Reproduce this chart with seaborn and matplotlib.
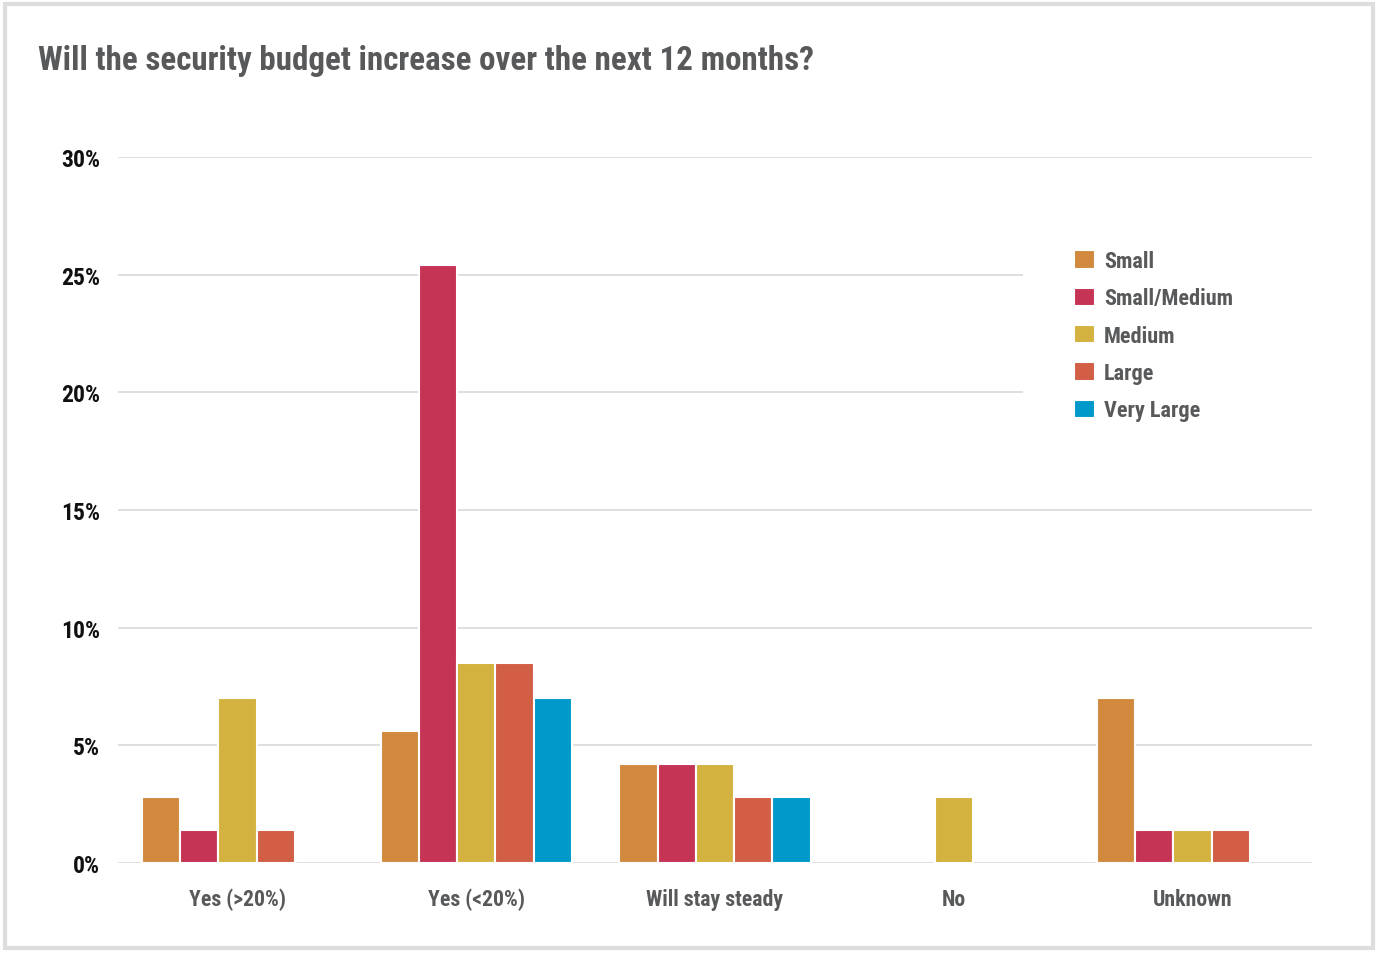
import matplotlib
matplotlib.use("Agg")
import matplotlib.pyplot as plt
from matplotlib.patches import Rectangle
from matplotlib.ticker import FuncFormatter
import seaborn as sns
import pandas as pd

categories = ["Yes (>20%)", "Yes (<20%)", "Will stay steady", "No", "Unknown"]
sizes = ["Small", "Small/Medium", "Medium", "Large", "Very Large"]
small = [2.8, 5.6, 4.2, 0.0, 7.0]
small_medium = [1.4, 25.4, 4.2, 0.0, 1.4]
medium = [7.0, 8.5, 4.2, 2.8, 1.4]
large = [1.4, 8.5, 2.8, 0.0, 1.4]
very_large = [0.0, 7.0, 2.8, 0.0, 0.0]
colors = ["#D18A3D", "#C63455", "#D4B240", "#D15E45", "#0099C9"]

rows = []
for size, vals in zip(sizes, [small, small_medium, medium, large, very_large]):
    for cat, v in zip(categories, vals):
        rows.append({"answer": cat, "size": size, "pct": v})
df = pd.DataFrame(rows)

sns.set_theme(style="white")
plt.rcParams["font.family"] = ["Roboto Condensed", "Liberation Sans Narrow",
                               "Roboto", "DejaVu Sans"]
plt.rcParams["font.stretch"] = "condensed"

fig = plt.figure(figsize=(13.77, 9.54), dpi=100)
ax = fig.add_axes([118 / 1377, 90 / 954, 1194 / 1377, 706 / 954])

sns.barplot(data=df, x="answer", y="pct", hue="size", order=categories,
            hue_order=sizes, palette=colors, saturation=1, width=0.8, ax=ax,
            edgecolor="white", linewidth=1.5, errorbar=None, zorder=3)

# empty slots stay invisible so the baseline is not broken
for container in ax.containers:
    for bar in container:
        if bar.get_height() == 0:
            bar.set_visible(False)

ax.set_ylim(0, 30)
ax.set_yticks([0, 5, 10, 15, 20, 25, 30])
ax.yaxis.set_major_formatter(FuncFormatter(lambda v, p: f"{v:.0f}%"))
ax.grid(axis="y", color="#d9d9d9", linewidth=1.2, zorder=0)
ax.grid(axis="x", visible=False)
for s in ax.spines.values():
    s.set_visible(False)
ax.set_xlabel("")
ax.set_ylabel("")
ax.tick_params(axis="y", length=0, pad=13, labelsize=17, labelcolor="#111111")
ax.tick_params(axis="x", length=0, pad=18, labelsize=15.7, labelcolor="#58595B")
for lab in ax.get_yticklabels():
    lab.set_fontweight("bold")
for lab in ax.get_xticklabels():
    lab.set_fontweight("bold")

leg = ax.legend(loc="upper left", mode="expand",
                bbox_to_anchor=(905 / 1194, 0.0, 289 / 1194, 664 / 706),
                borderaxespad=0, frameon=True, facecolor="white",
                edgecolor="none", framealpha=1, fancybox=False, fontsize=16,
                handlelength=0.95, handleheight=0.9, handletextpad=0.4,
                labelspacing=0.69, borderpad=2.3)
leg.set_zorder(5)
for t in leg.get_texts():
    t.set_color("#58595B")
    t.set_fontweight("bold")

fig.text(38 / 1377, 1 - 61 / 954, "Will the security budget increase over the next 12 months?",
         fontsize=23.8, fontweight="bold", color="#58595B", va="center", ha="left")

fig.patches.append(Rectangle((5 / 1377, 5 / 954), 1368 / 1377, 944 / 954,
                             transform=fig.transFigure, fill=False,
                             edgecolor="#dddddd", linewidth=3))

fig.savefig("out.png", dpi=100)
